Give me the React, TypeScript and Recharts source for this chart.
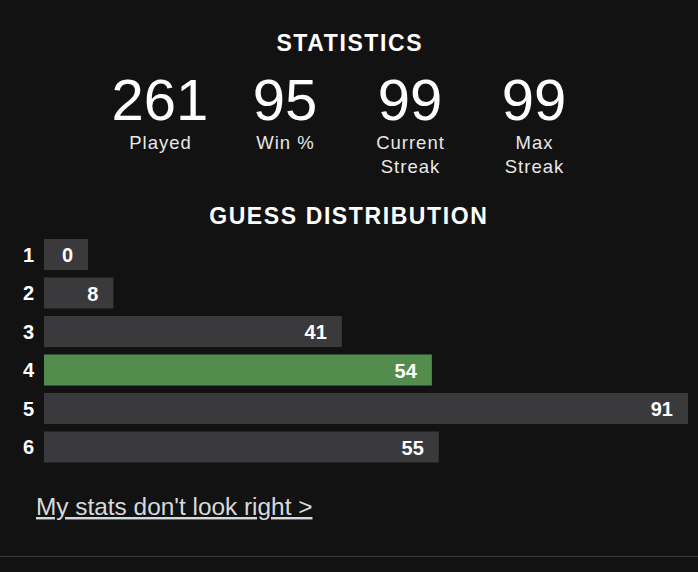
import React from "react";
import { BarChart, Bar, XAxis, YAxis } from "recharts";

const guesses = ["1", "2", "3", "4", "5", "6"];
const counts = [0, 8, 41, 54, 91, 55];
const highlightGuess = "4";

const statValues = ["261", "95", "99", "99"];
const statLabels = [["Played"], ["Win %"], ["Current", "Streak"], ["Max", "Streak"]];

const titleText = "STATISTICS";
const distTitle = "GUESS DISTRIBUTION";
const linkText = "My stats don't look right >";

const rows = guesses.map((g, i) => ({ guess: g, count: counts[i] }));
const maxCount = Math.max(...counts);

const FONT = "'Liberation Sans', Arial, Helvetica, sans-serif";
const BG = "#121213";
const GRAY = "#3a3a3c";
const GREEN = "#538d4e";
const BAR_PAD = 14;
const MIN_BAR = 44;

const BarShape = (props: any) => {
  const { x, y, width, height, payload } = props;
  const w = Math.max(MIN_BAR, width + BAR_PAD);
  const fill = payload.guess === highlightGuess ? GREEN : GRAY;
  return (
    <g>
      <rect x={x} y={y} width={w} height={height} fill={fill} />
      <text
        x={x + w - 15}
        y={y + height / 2 + 7.5}
        textAnchor="end"
        fill="#ffffff"
        fontFamily={FONT}
        fontWeight="bold"
        fontSize={20}
      >
        {payload.count}
      </text>
    </g>
  );
};

const RowTick = (props: any) => {
  const { x, y, payload } = props;
  return (
    <text
      x={x}
      y={y + 7.5}
      textAnchor="middle"
      fill="#ffffff"
      fontFamily={FONT}
      fontWeight="bold"
      fontSize={20}
    >
      {payload.value}
    </text>
  );
};

const statCenters = [160, 285, 410, 534];

export default function App() {
  return (
    <div
      style={{
        position: "fixed",
        left: 0,
        top: 0,
        width: 698,
        height: 572,
        background: BG,
        overflow: "hidden",
      }}
    >
      <svg
        width={698}
        height={572}
        style={{ position: "absolute", left: 0, top: 0 }}
        fontFamily={FONT}
      >
        <text
          x={349 + 0.8}
          y={51}
          textAnchor="middle"
          fill="#ffffff"
          fontWeight="bold"
          fontSize={23}
          letterSpacing={1.6}
        >
          {titleText}
        </text>
        {statValues.map((v, i) => (
          <text
            key={"v" + i}
            x={statCenters[i]}
            y={120}
            textAnchor="middle"
            fill="#ffffff"
            fontSize={58}
          >
            {v}
          </text>
        ))}
        {statLabels.map((lines, i) =>
          lines.map((l, j) => (
            <text
              key={"l" + i + "-" + j}
              x={statCenters[i] + 0.5}
              y={149 + j * 24}
              textAnchor="middle"
              fill="#e8e8e8"
              fontSize={18.5}
              letterSpacing={1}
            >
              {l}
            </text>
          ))
        )}
        <text
          x={348 + 0.8}
          y={224}
          textAnchor="middle"
          fill="#ffffff"
          fontWeight="bold"
          fontSize={23}
          letterSpacing={1.6}
        >
          {distTitle}
        </text>
        <text
          x={36}
          y={515}
          fill="#d7dadc"
          fontSize={24.4}
          style={{ textDecoration: "underline" }}
        >
          {linkText}
        </text>
        <line x1={0} x2={698} y1={556.5} y2={556.5} stroke={GRAY} strokeWidth={1} />
      </svg>
      <div style={{ position: "absolute", left: 0, top: 235 }}>
        <BarChart
          width={698}
          height={231}
          data={rows}
          layout="vertical"
          margin={{ top: 0, right: 24, bottom: 0, left: 0 }}
        >
          <XAxis type="number" hide domain={[0, maxCount]} />
          <YAxis
            type="category"
            dataKey="guess"
            width={44}
            axisLine={false}
            tickLine={false}
            tickSize={0}
            tickMargin={15.5}
            tick={<RowTick />}
          />
          <Bar
            dataKey="count"
            barSize={31}
            shape={<BarShape />}
            isAnimationActive={false}
          />
        </BarChart>
      </div>
    </div>
  );
}
